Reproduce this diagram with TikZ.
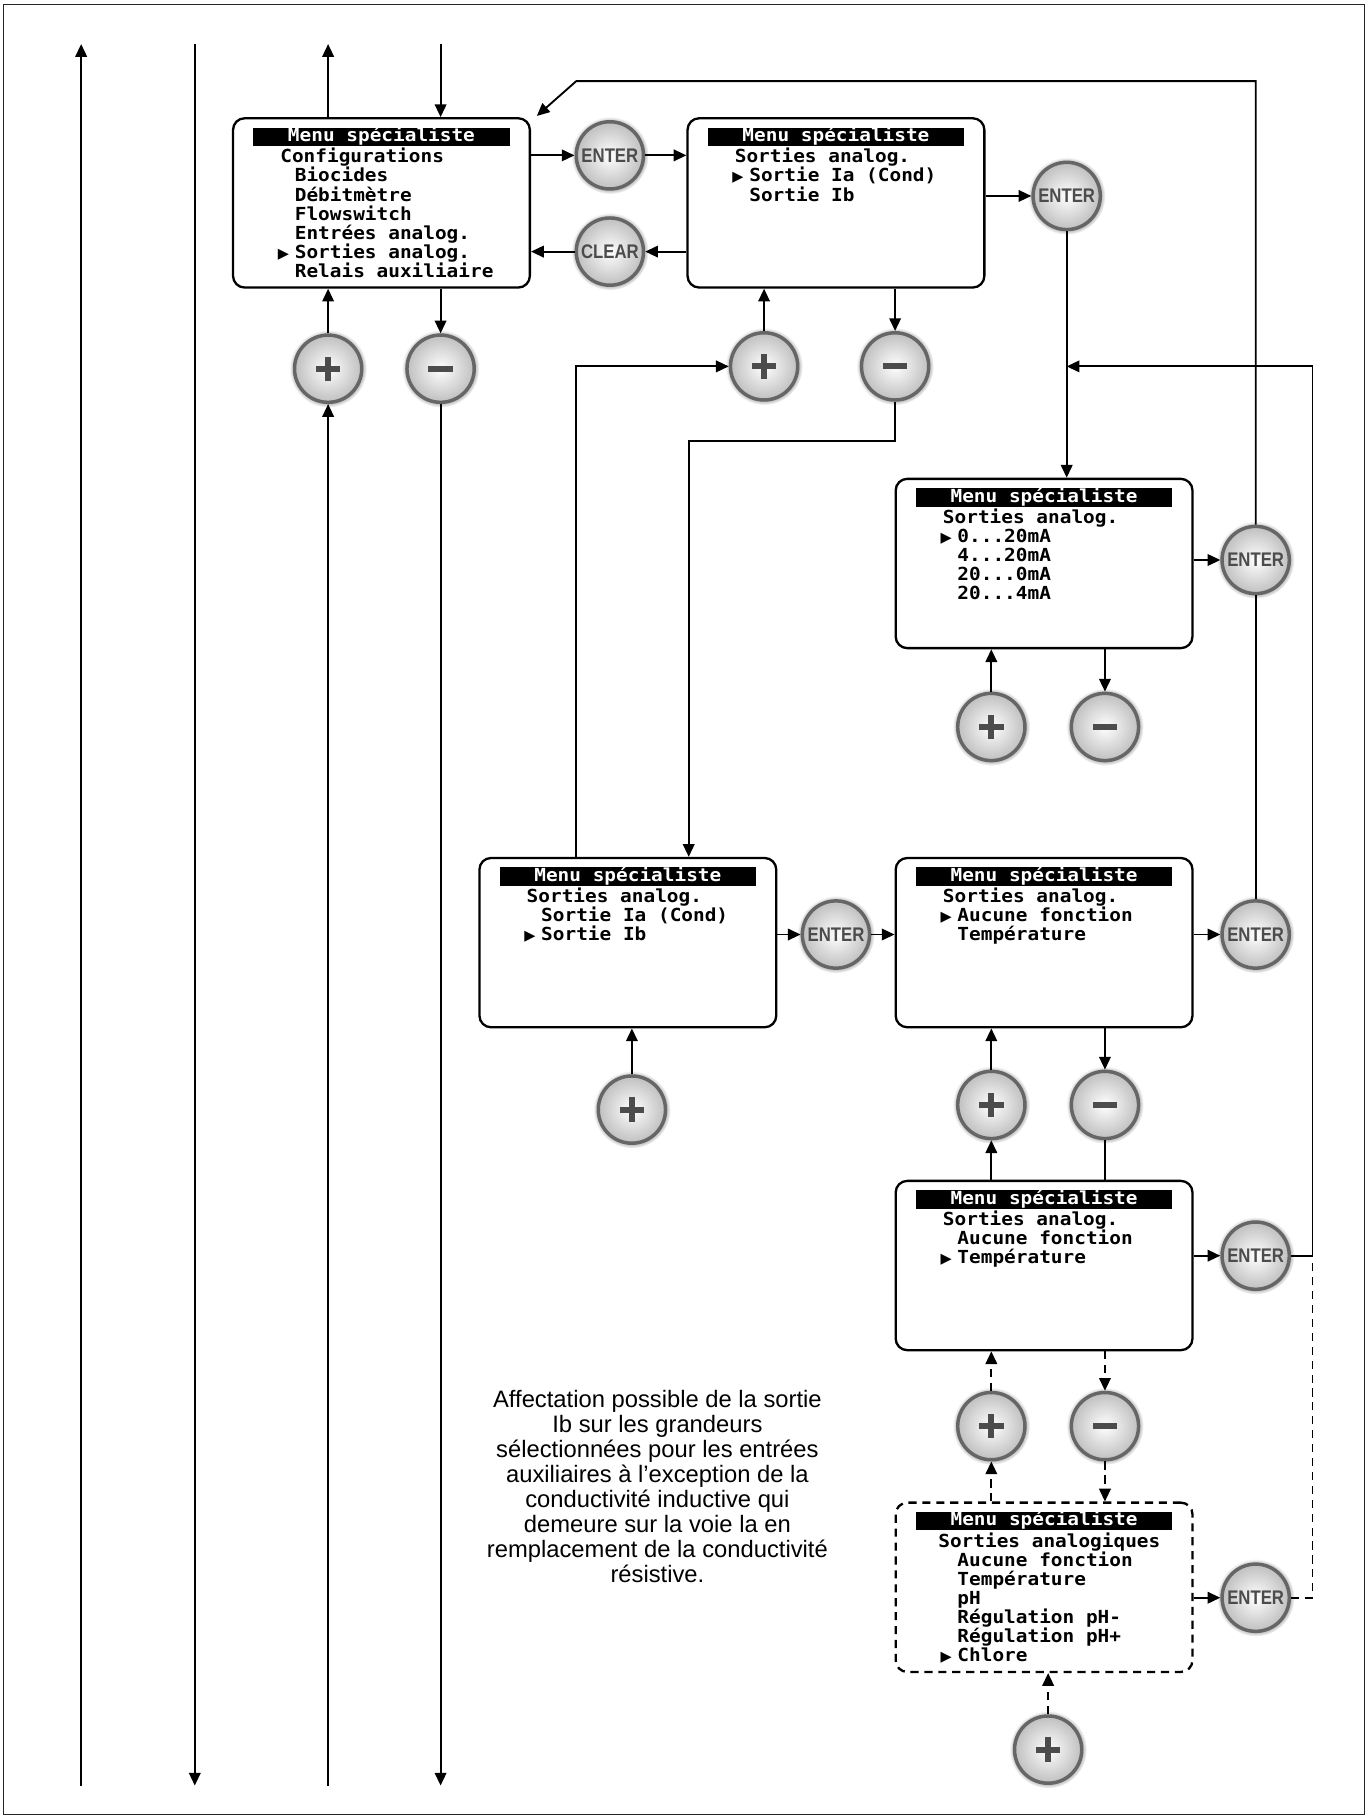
\documentclass[tikz,border=0pt]{standalone}
\usepackage{fontspec}
\usetikzlibrary{arrows.meta, shadows}

\newfontfamily\lcdfont{DejaVu Sans Mono}[FakeStretch=1.08]
\newfontfamily\btnfont{Liberation Sans}[FakeStretch=0.85]
\newfontfamily\notefont{Liberation Sans}
\newfontfamily\markfont{DejaVu Sans}
\colorlet{btnink}{black!70}
% selection marker, item indent and line spacing on the screens
\newcommand{\sel}{\llap{{\markfont\fontsize{12.5}{12.5}\selectfont ▶}\hspace{5pt}}}
\newcommand{\itm}{\hspace*{12.5pt}}
\newcommand{\lcdsize}{\fontsize{15.5}{16.5}\selectfont\lineskiplimit=-20pt\relax}

\tikzset{
  screen/.style={draw, line width=2pt, rounded corners=10pt, minimum width=256, minimum height=146, inner sep=0},
  title/.style={fill=black, text=white, minimum width=221, minimum height=16, inner sep=0,
    text height=11.5pt, text depth=3.5pt, font=\lcdfont\bfseries\fontsize{15.5}{16.5}\selectfont},
  lines/.style={anchor=north west, inner sep=0, align=left, font=\lcdfont\bfseries\lcdsize},
  btn/.style={circle, minimum size=58, inner sep=0, draw=black!60, line width=3pt,
    inner color=white, outer color=black!25, circular glow={fill=black, opacity=0.35, shadow scale=1.15},
    font=\btnfont\bfseries\fontsize{17}{17}\selectfont, text=btnink},
  plusbtn/.style={btn, path picture={
    \fill[btnink] ([shift={(-10.5pt,-2.6pt)}]path picture bounding box.center) rectangle ++(21pt,5.2pt);
    \fill[btnink] ([shift={(-2.6pt,-10.5pt)}]path picture bounding box.center) rectangle ++(5.2pt,21pt);}},
  minusbtn/.style={btn, path picture={
    \fill[btnink] ([shift={(-10.5pt,-2.6pt)}]path picture bounding box.center) rectangle ++(21pt,5.2pt);}},
  arr/.style={-{Triangle[length=11pt,width=10pt]}},
  dashline/.style={dash pattern=on 7pt off 5pt},
  note/.style={align=center, inner sep=0, font=\notefont\fontsize{20.5}{21.6}\selectfont}
}

\begin{document}
\begin{tikzpicture}[x=1pt, y=-1pt, line width=1.6pt]
    \useasboundingbox (0,0) rectangle (1181,1568);
    \draw[line width=1.4pt, black!85] (3,4) rectangle (1177,1565);

    % Screens
    \node[screen] (s1) at (329,175) {};
    \node[screen] (s2) at (721,175) {};
    \node[screen] (s3) at (900.5,486) {};
    \node[screen] (s4) at (541.5,813) {};
    \node[screen] (s5) at (900.5,813) {};
    \node[screen] (s6) at (900.5,1091.5) {};
    \node[screen, dashline] (s7) at (900.5,1369) {};
    \foreach \s in {s1,s2,s3,s4,s5,s6,s7}
        \node[title] (\s t) at ([yshift=-17pt]\s.north) {Menu spécialiste};

    \node[lines] (s1l) at ([xshift=41pt, yshift=-26pt]s1.north west)
        {\strut Configurations\\ \itm Biocides\\ \itm Débitmètre\\ \itm Flowswitch\\
         \itm Entrées analog.\\ \itm\sel Sorties analog.\\ \itm Relais auxiliaire};
    \node[lines] (s2l) at ([xshift=41pt, yshift=-26pt]s2.north west)
        {\strut Sorties analog.\\ \itm\sel Sortie Ia (Cond)\\ \itm Sortie Ib};
    \node[lines] (s3l) at ([xshift=41pt, yshift=-26pt]s3.north west)
        {\strut Sorties analog.\\ \itm\sel 0...20mA\\ \itm 4...20mA\\ \itm 20...0mA\\ \itm 20...4mA};
    \node[lines] (s4l) at ([xshift=41pt, yshift=-26pt]s4.north west)
        {\strut Sorties analog.\\ \itm Sortie Ia (Cond)\\ \itm\sel Sortie Ib};
    \node[lines] (s5l) at ([xshift=41pt, yshift=-26pt]s5.north west)
        {\strut Sorties analog.\\ \itm\sel Aucune fonction\\ \itm Température};
    \node[lines] (s6l) at ([xshift=41pt, yshift=-26pt]s6.north west)
        {\strut Sorties analog.\\ \itm Aucune fonction\\ \itm\sel Température};
    \node[lines] (s7l) at ([xshift=41pt, yshift=-26pt]s7.north west)
        {\strut\hspace*{-4pt}Sorties analogiques\\ \itm Aucune fonction\\ \itm Température\\ \itm pH\\
         \itm Régulation pH-\\ \itm Régulation pH+\\ \itm\sel Chlore};

    % Keys
    \node[btn] (e1) at (526,134) {ENTER};
    \node[btn] (c1) at (526,217) {CLEAR};
    \node[plusbtn] (p1) at (283,318) {};
    \node[minusbtn] (m1) at (380,318) {};
    \node[plusbtn] (p2) at (659,316) {};
    \node[minusbtn] (m2) at (772,316) {};
    \node[btn] (e2) at (920,169) {ENTER};
    \node[btn] (e3) at (1083,483) {ENTER};
    \node[plusbtn] (p3) at (855,627) {};
    \node[minusbtn] (m3) at (953,627) {};
    \node[btn] (e4) at (721,806) {ENTER};
    \node[btn] (e5) at (1083,806) {ENTER};
    \node[plusbtn] (p4) at (545,957) {};
    \node[plusbtn] (p5) at (855,953) {};
    \node[minusbtn] (m5) at (953,953) {};
    \node[btn] (e6) at (1083,1083) {ENTER};
    \node[plusbtn] (p6) at (855,1230) {};
    \node[minusbtn] (m6) at (953,1230) {};
    \node[btn] (e7) at (1083,1378) {ENTER};
    \node[plusbtn] (p7) at (904,1509) {};

    \node[note] (note) at (567,1282) {Affectation possible de la sortie\\ Ib sur les grandeurs\\
        sélectionnées pour les entrées\\ auxiliaires à l’exception de la\\ conductivité inductive qui\\
        demeure sur la voie la en\\ remplacement de la conductivité\\ résistive.};

    % Free ends
    \coordinate (t1) at (70,38);  \coordinate (b1) at (70,1540);
    \coordinate (t2) at (168,38); \coordinate (b2) at (168,1540);
    \coordinate (t3) at (283,38); \coordinate (b3) at (283,1540);
    \coordinate (t4) at (380,38); \coordinate (b4) at (380,1540);
    \coordinate (topr) at (1083,70); \coordinate (topl) at (497,70);
    \coordinate (s1in) at (463,100);
    \coordinate (mk) at (594,380); \coordinate (pk) at (497,316);
    \coordinate (rk) at (1132,1083); \coordinate (rt) at (1132,316);

    % Left columns
    \draw[arr] (b1) -- (t1);
    \draw[arr] (t2) -- (b2);
    \draw[arr] (b3) -- (p1);
    \draw[arr] (p1) -- (p1 |- s1.south);
    \draw[arr] (p1 |- s1.north) -- (t3);
    \draw[arr] (t4) -- (m1 |- s1.north);
    \draw[arr] (m1 |- s1.south) -- (m1);
    \draw[arr] (m1) -- (b4);

    % Top row
    \draw[arr] (s1.east |- e1) -- (e1);
    \draw[arr] (e1) -- (e1 -| s2.west);
    \draw[arr] (c1 -| s2.west) -- (c1);
    \draw[arr] (c1) -- (c1 -| s1.east);
    \draw[arr] (s2.east |- e2) -- (e2);
    \draw[arr] (p2) -- (p2 |- s2.south);
    \draw[arr] (m2 |- s2.south) -- (m2);
    \draw[arr] (m2) |- (mk) -- (mk |- s4.north);
    \draw[arr] (pk |- s4.north) |- (p2);
    \draw[arr] (e2) -- (e2 |- s3.north);

    % Right part
    \draw[arr] (s3.east |- e3) -- (e3);
    \draw[arr] (p3) -- (p3 |- s3.south);
    \draw[arr] (m3 |- s3.south) -- (m3);
    \draw[arr] (e3) -- (topr) -- (topl) -- (s1in);
    \draw (e5) -- (e3);
    \draw[arr] (s4.east |- e4) -- (e4);
    \draw[arr] (e4) -- (e4 -| s5.west);
    \draw[arr] (p4) -- (p4 |- s4.south);
    \draw[arr] (s5.east |- e5) -- (e5);
    \draw[arr] (p5) -- (p5 |- s5.south);
    \draw[arr] (m5 |- s5.south) -- (m5);
    \draw[arr] (p5 |- s6.north) -- (p5);
    \draw (m5) -- (m5 |- s6.north);
    \draw[arr] (s6.east |- e6) -- (e6);
    \draw[arr] (e6) -- (rk) -- (rt) -- (rt -| e2);
    \draw[arr, dashline] (p6) -- (p6 |- s6.south);
    \draw[arr, dashline] (m6 |- s6.south) -- (m6);
    \draw[arr, dashline] (p6 |- s7.north) -- (p6);
    \draw[arr, dashline] (m6) -- (m6 |- s7.north);
    \draw[arr] (s7.east |- e7) -- (e7);
    \draw[dashline] (e7) -| (rk);
    \draw[arr, dashline] (p7) -- (p7 |- s7.south);
\end{tikzpicture}
\end{document}
